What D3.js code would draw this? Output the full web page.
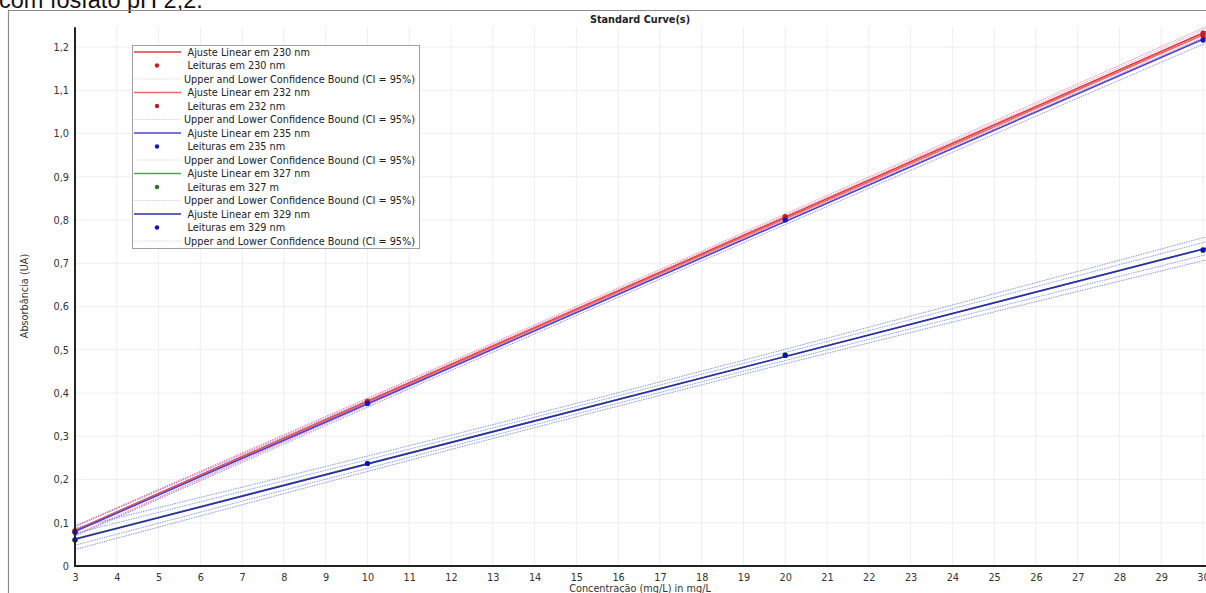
<!DOCTYPE html>
<html>
<head>
<meta charset="utf-8">
<script src="https://cdn.jsdelivr.net/npm/d3@7"></script>
<style>
  html, body { margin: 0; padding: 0; background: #fff; overflow: hidden; }
  svg { display: block; }
</style>
</head>
<body>
<svg id="chart" width="1206" height="593"></svg>
<script>
// Concentrations of the standards (mg/L)
const concentrations = [3, 10, 20, 30];

// Absorbance readings per wavelength
const wavelengths = ["230 nm", "232 nm", "235 nm", "327 m", "329 nm"];
const fitNames = ["230 nm", "232 nm", "235 nm", "327 nm", "329 nm"];
const readings230 = [0.082, 0.381, 0.808, 1.232];
const readings232 = [0.080, 0.379, 0.806, 1.226];
const readings235 = [0.078, 0.376, 0.800, 1.216];
const readings327 = [0.061, 0.237, 0.488, 0.730];
const readings329 = [0.060, 0.237, 0.487, 0.731];

// Residual standard deviation of each fit (used for the 95% bands)
const residualSD = [0.0030, 0.0030, 0.0032, 0.0072, 0.0040];
const tCritical = 4.303; // Student t, 95%, df = 2

// Axis ticks
const xTicks = d3.range(3, 31);
const yTicks = [0, 0.1, 0.2, 0.3, 0.4, 0.5, 0.6, 0.7, 0.8, 0.9, 1.0, 1.1, 1.2];

const lineColors = ["#e23a3a", "#ee6a6a", "#4646dc", "#5aa05a", "#2a2ab0"];
const dotColors = ["#cc1f24", "#b81f24", "#1414c8", "#237a23", "#0f0fc0"];
const bandColors = ["#e0609a", "#e880a8", "#7a6ae0", "#5a7ad0", "#6a7ae0"];

const series = [readings230, readings232, readings235, readings327, readings329];

const svg = d3.select("#chart");
const fontUI = "'DejaVu Sans Condensed', 'DejaVu Sans', sans-serif";

// Caption line of the surrounding document
svg.append("text")
  .attr("x", -1).attr("y", 8)
  .attr("font-family", "'Liberation Sans', Arial, sans-serif")
  .attr("font-size", 23.5)
  .attr("fill", "#111")
  .text("com fosfato pH 2,2.");

// Outer frame of the chart window
svg.append("path")
  .attr("d", "M8.5,593 V10.5 H1206")
  .attr("fill", "none")
  .attr("stroke", "#8a8a8a")
  .attr("stroke-width", 1.2);

const x = d3.scaleLinear().domain([3, 30]).range([75, 1203]);
const y = d3.scaleLinear().domain([0, 1.25]).range([566, 25.4]);

// Title
svg.append("text")
  .attr("x", 640).attr("y", 22.5)
  .attr("text-anchor", "middle")
  .attr("font-family", fontUI)
  .attr("font-size", 10.8)
  .attr("font-weight", "bold")
  .attr("fill", "#222")
  .text("Standard Curve(s)");

// Grid
const grid = svg.append("g");
grid.selectAll("line.v").data(xTicks.slice(1)).join("line")
  .attr("x1", d => x(d)).attr("x2", d => x(d))
  .attr("y1", y(1.246)).attr("y2", y(0))
  .attr("stroke", "#eeeeee").attr("stroke-width", 1);
grid.selectAll("line.h").data(yTicks.slice(1)).join("line")
  .attr("x1", x(3)).attr("x2", 1206)
  .attr("y1", d => y(d)).attr("y2", d => y(d))
  .attr("stroke", "#eeeeee").attr("stroke-width", 1);

// Clip region for the plotted curves
svg.append("clipPath").attr("id", "plotClip")
  .append("rect").attr("x", 75).attr("y", 20).attr("width", 1131).attr("height", 546);

const plot = svg.append("g").attr("clip-path", "url(#plotClip)");

// Least-squares fit
function fit(xs, ys) {
  const n = xs.length;
  const mx = d3.mean(xs), my = d3.mean(ys);
  const sxx = d3.sum(xs, v => (v - mx) * (v - mx));
  const sxy = d3.sum(xs, (v, i) => (v - mx) * (ys[i] - my));
  const b = sxy / sxx;
  const a = my - b * mx;
  return { a, b, mx, sxx, n };
}

const xs = d3.range(3, 30.6, 0.25);
const lineGen = d3.line().x(d => x(d[0])).y(d => y(d[1]));

series.forEach((ys, i) => {
  const f = fit(concentrations, ys);
  const hw = v => tCritical * residualSD[i] * Math.sqrt(1 / f.n + (v - f.mx) * (v - f.mx) / f.sxx);
  const upper = xs.map(v => [v, f.a + f.b * v + hw(v)]);
  const lower = xs.map(v => [v, f.a + f.b * v - hw(v)]);
  [upper, lower].forEach(pts => {
    plot.append("path")
      .attr("d", lineGen(pts))
      .attr("fill", "none")
      .attr("stroke", bandColors[i])
      .attr("stroke-opacity", 0.75)
      .attr("stroke-width", 1)
      .attr("stroke-dasharray", "1.5,1");
  });
});

series.forEach((ys, i) => {
  const f = fit(concentrations, ys);
  plot.append("path")
    .attr("d", lineGen([[3, f.a + f.b * 3], [30.2, f.a + f.b * 30.2]]))
    .attr("fill", "none")
    .attr("stroke", lineColors[i])
    .attr("stroke-width", 1.6);
});

series.forEach((ys, i) => {
  svg.append("g").selectAll("circle")
    .data(concentrations.map((c, k) => [c, ys[k]]))
    .join("circle")
    .attr("cx", d => x(d[0]))
    .attr("cy", d => y(d[1]))
    .attr("r", 2.6)
    .attr("fill", dotColors[i]);
});

// Axes
const xAxis = d3.axisBottom(x).tickValues(xTicks).tickSize(0).tickPadding(7).tickFormat(d3.format("d"));
const gx = svg.append("g").attr("transform", "translate(0,566)").call(xAxis);
gx.select(".domain").attr("stroke", "#222").attr("stroke-width", 2).attr("d", "M75,0H1206");
gx.selectAll("text").attr("font-family", fontUI).attr("font-size", 10.8).attr("fill", "#333");

const commaFmt = d => d === 0 ? "0" : d3.format(".1f")(d).replace(".", ",");
const yAxis = d3.axisLeft(y).tickValues(yTicks).tickSize(0).tickPadding(6).tickFormat(commaFmt);
const gy = svg.append("g").attr("transform", "translate(75,0)").call(yAxis);
gy.select(".domain").attr("stroke", "#222").attr("stroke-width", 2).attr("d", "M0," + y(1.246) + "V567");
gy.selectAll("text").attr("font-family", fontUI).attr("font-size", 10.8).attr("fill", "#333");

// Axis titles
svg.append("text")
  .attr("x", 640).attr("y", 592)
  .attr("text-anchor", "middle")
  .attr("font-family", fontUI)
  .attr("font-size", 10.8)
  .attr("fill", "#333")
  .text("Concentração (mg/L) in mg/L");

svg.append("text")
  .attr("transform", "translate(28,296) rotate(-90)")
  .attr("text-anchor", "middle")
  .attr("font-family", fontUI)
  .attr("font-size", 10.8)
  .attr("fill", "#333")
  .text("Absorbância (UA)");

// Legend
const legend = svg.append("g");
legend.append("rect")
  .attr("x", 132.5).attr("y", 45.5).attr("width", 287).attr("height", 203)
  .attr("fill", "#fff").attr("stroke", "#a0a0a0").attr("stroke-width", 1);

const rowH = 13.5, row0 = 52;
const legendRows = [];
series.forEach((ys, i) => {
  legendRows.push({ kind: "line", i, label: "Ajuste Linear em " + fitNames[i] });
  legendRows.push({ kind: "dot", i, label: "Leituras em " + wavelengths[i] });
  legendRows.push({ kind: "band", i, label: "Upper and Lower Confidence Bound (CI = 95%)" });
});

legendRows.forEach((r, k) => {
  const cy = row0 + k * rowH;
  if (r.kind === "line") {
    legend.append("line").attr("x1", 134).attr("x2", 181).attr("y1", cy).attr("y2", cy)
      .attr("stroke", lineColors[r.i]).attr("stroke-width", 1.3);
  } else if (r.kind === "dot") {
    legend.append("circle").attr("cx", 157).attr("cy", cy).attr("r", 2.2).attr("fill", dotColors[r.i]);
  } else {
    legend.append("line").attr("x1", 134).attr("x2", 181).attr("y1", cy).attr("y2", cy)
      .attr("stroke", "#d8d8d8").attr("stroke-width", 1).attr("stroke-dasharray", "1.5,1");
  }
  legend.append("text")
    .attr("x", r.kind === "band" ? 184 : 187.5)
    .attr("y", cy + 3.9)
    .attr("font-family", fontUI)
    .attr("font-size", 10.8)
    .attr("fill", "#222")
    .text(r.label);
});
</script>
</body>
</html>
